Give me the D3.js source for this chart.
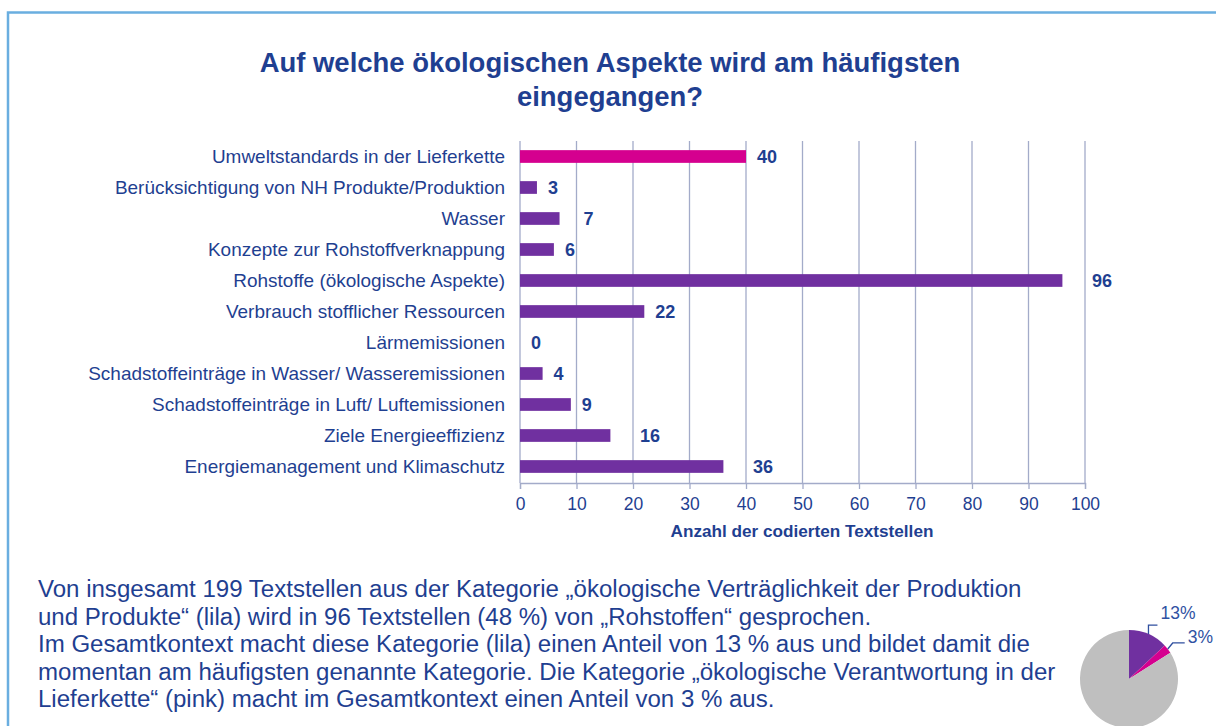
<!DOCTYPE html>
<html><head><meta charset="utf-8">
<script src="https://cdn.jsdelivr.net/npm/d3@7"></script>
<style>
html,body{margin:0;padding:0;background:#fff;}
svg{display:block;font-family:"Liberation Sans",Arial,sans-serif;}
</style></head>
<body>
<svg id="chart" width="1216" height="726"></svg>
<script>
const categories = [
  "Umweltstandards in der Lieferkette",
  "Berücksichtigung von NH Produkte/Produktion",
  "Wasser",
  "Konzepte zur Rohstoffverknappung",
  "Rohstoffe (ökologische Aspekte)",
  "Verbrauch stofflicher Ressourcen",
  "Lärmemissionen",
  "Schadstoffeinträge in Wasser/ Wasseremissionen",
  "Schadstoffeinträge in Luft/ Luftemissionen",
  "Ziele Energieeffizienz",
  "Energiemanagement und Klimaschutz"
];
const values = [40, 3, 7, 6, 96, 22, 0, 4, 9, 16, 36];
const groups = ["pink", "lila", "lila", "lila", "lila", "lila", "lila", "lila", "lila", "lila", "lila"];
const xTicks = [0, 10, 20, 30, 40, 50, 60, 70, 80, 90, 100];
const titleLines = ["Auf welche ökologischen Aspekte wird am häufigsten", "eingegangen?"];
const axisTitle = "Anzahl der codierten Textstellen";
const paragraph = [
  "Von insgesamt 199 Textstellen aus der Kategorie „ökologische Verträglichkeit der Produktion",
  "und Produkte“ (lila) wird in 96 Textstellen (48 %) von „Rohstoffen“ gesprochen.",
  "Im Gesamtkontext macht diese Kategorie (lila) einen Anteil von 13 % aus und bildet damit die",
  "momentan am häufigsten genannte Kategorie. Die Kategorie „ökologische Verantwortung in der",
  "Lieferkette“ (pink) macht im Gesamtkontext einen Anteil von 3 % aus."
];
const pieLabels = ["13%", "3%", ""];
const pieValues = [13, 3, 84];
const pieGroups = ["lila", "pink", "rest"];

const TEXT = "#1f3f91";
const GRID = "#a3abc9";
const colors = {pink: "#d5008f", lila: "#7030a0", rest: "#bfbfbf"};

const svg = d3.select("#chart");

function fit(sel, target, start) {
  sel.style("font-size", start + "px");
  const w = sel.node().getComputedTextLength();
  sel.style("font-size", (start * target / w).toFixed(2) + "px");
}

// frame
svg.append("rect").attr("x", 8).attr("y", 12.5).attr("width", 1230).attr("height", 740)
  .attr("fill", "none").attr("stroke", "#6aaee0").attr("stroke-width", 2.5);

// title
const tg = svg.append("g");
const tl = tg.selectAll("text").data(titleLines).join("text")
  .attr("x", 610).attr("y", (d, i) => 72 + i * 34)
  .attr("text-anchor", "middle").attr("font-weight", "bold").attr("fill", TEXT).text(d => d);
fit(tl.filter((d, i) => i === 0), 701, 22);
tl.style("font-size", tl.filter((d, i) => i === 0).style("font-size"));

// scales
const x = d3.scaleLinear().domain([0, 100]).range([520, 1085]);
const y = d3.scaleBand().domain(categories).range([141, 482]).paddingInner(0.59).paddingOuter(0.295);

// grid
svg.append("g").selectAll("line").data(xTicks).join("line")
  .attr("x1", d => x(d)).attr("x2", d => x(d)).attr("y1", 141).attr("y2", 483)
  .attr("stroke", GRID).attr("stroke-width", 1.3);

// axis
const ax = svg.append("g").attr("transform", "translate(0,483)")
  .call(d3.axisBottom(x).tickValues(xTicks).tickSize(6).tickPadding(9).tickFormat(d3.format("d")));
ax.select(".domain").attr("stroke", GRID).attr("stroke-width", 1.3);
ax.selectAll(".tick line").attr("stroke", GRID).attr("stroke-width", 1.3);
ax.selectAll(".tick text").attr("fill", TEXT).style("font-size", "17.5px")
  .style("font-family", "'Liberation Sans', Arial, sans-serif");

// axis title
const at = svg.append("text").attr("x", 802).attr("y", 537).attr("text-anchor", "middle")
  .attr("font-weight", "bold").attr("fill", TEXT).text(axisTitle);
fit(at, 263, 15);

// bars
svg.append("g").selectAll("rect").data(values).join("rect")
  .attr("x", x(0)).attr("y", (d, i) => y(categories[i]))
  .attr("width", d => x(d) - x(0)).attr("height", y.bandwidth())
  .attr("fill", (d, i) => colors[groups[i]]);

// category labels
const cl = svg.append("g").selectAll("text").data(categories).join("text")
  .attr("x", 505).attr("y", d => y(d) + y.bandwidth() / 2).attr("dy", "0.36em")
  .attr("text-anchor", "end").attr("fill", TEXT).text(d => d);
fit(cl.filter((d, i) => i === 7), 417, 16);
cl.style("font-size", cl.filter((d, i) => i === 7).style("font-size"));

// value labels (shifted past a gridline if they would cross it)
const vl = svg.append("g").selectAll("text").data(values).join("text")
  .attr("y", (d, i) => y(categories[i]) + y.bandwidth() / 2).attr("dy", "0.37em")
  .attr("font-weight", "bold").attr("fill", TEXT).style("font-size", "18px")
  .text(d => d);
vl.each(function(d) {
  const w = this.getComputedTextLength();
  let lx = x(d) + 11;
  xTicks.forEach(t => {
    const gx = x(t);
    if (gx > x(d) + 1 && gx >= lx - 2 && gx <= lx + w + 1) lx = gx + 7;
  });
  d3.select(this).attr("x", lx);
});

// paragraph
const pg = svg.append("g");
const pl = pg.selectAll("text").data(paragraph).join("text")
  .attr("x", 38).attr("y", (d, i) => 597 + i * 27.5).attr("fill", TEXT).text(d => d);
fit(pl.filter((d, i) => i === 0), 984, 21);
pl.style("font-size", pl.filter((d, i) => i === 0).style("font-size"));

// pie
const pc = {x: 1129, y: 679, r: 49};
const pie = d3.pie().sort(null).value(d => d)(pieValues);
const arc = d3.arc().innerRadius(0).outerRadius(pc.r);
const pgp = svg.append("g").attr("transform", `translate(${pc.x},${pc.y})`);
pgp.selectAll("path").data(pie).join("path")
  .attr("d", arc).attr("fill", (d, i) => colors[pieGroups[i]]);
const leaders = [
  {dy: -9, dx: 0, hx: 9, tx: 12, ty: -12},
  {dy: -6, dx: 5, hx: 12, tx: 15, ty: -6}
];
pie.slice(0, 2).forEach((d, i) => {
  const a = (d.startAngle + d.endAngle) / 2;
  const px = Math.sin(a) * pc.r, py = -Math.cos(a) * pc.r;
  const L = leaders[i];
  const bx = px + L.dx, by = py + L.dy;
  pgp.append("path")
    .attr("d", `M${px},${py}L${bx},${by}L${bx + L.hx},${by}`)
    .attr("fill", "none").attr("stroke", "#2f4f9f").attr("stroke-width", 1.3);
  pgp.append("text").attr("x", bx + L.hx + 3).attr("y", by + L.ty + 6)
    .attr("fill", "#2f52a3").style("font-size", "17.5px").text(pieLabels[i]);
});
</script>
</body></html>
